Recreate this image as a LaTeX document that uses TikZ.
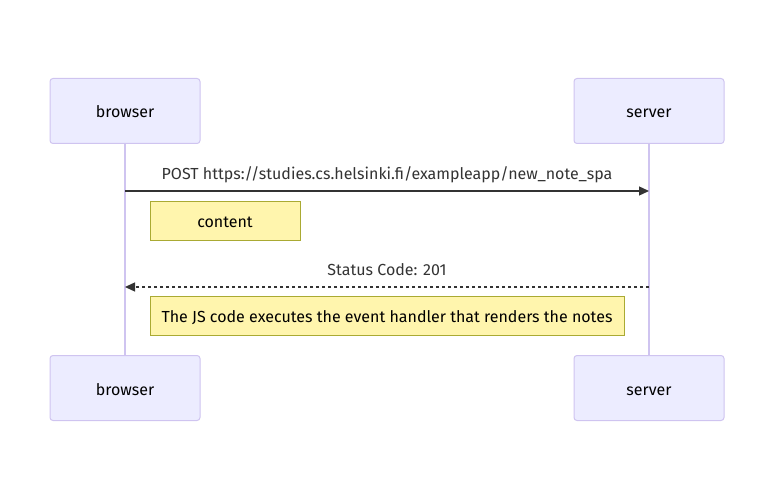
\documentclass[tikz,border=0pt]{standalone}
\usepackage{fontspec}
\setmainfont{Fira Sans}
\usetikzlibrary{arrows.meta}
\definecolor{actfill}{HTML}{ECECFF}
\definecolor{actdraw}{HTML}{CFC4F0}
\definecolor{notefill}{HTML}{FFF5AD}
\definecolor{notedraw}{HTML}{AAAA33}
\definecolor{txt}{HTML}{333333}
\begin{document}
\begin{tikzpicture}[x=1pt,y=-1pt,
  every node/.style={font=\fontsize{16}{19}\selectfont, inner sep=0pt},
  actor/.style={draw=actdraw, fill=actfill, line width=1pt, rounded corners=3pt, minimum width=150pt, minimum height=65pt, text=black, text height=14pt, text depth=0pt},
  note/.style={draw=notedraw, fill=notefill, line width=1pt, minimum height=39pt, text=black, text height=14pt, text depth=0pt},
  lifeline/.style={draw=actdraw, line width=1.6pt},
  msg/.style={draw=txt, line width=1.3pt, -{Triangle[length=10pt,width=9pt]}},
  lbl/.style={text=txt, anchor=base}
]
\useasboundingbox (0,0) rectangle (774,500);
\node[actor] (bt) at (125,111) {browser};
\node[actor] (st) at (649,111) {server};
\node[actor] (bb) at (125,388) {browser};
\node[actor] (sb) at (649,388) {server};
\draw[lifeline] (bt.south) -- (bb.north);
\draw[lifeline] (st.south) -- (sb.north);
\coordinate (m1a) at (125,191);
\coordinate (m1b) at (649,191);
\coordinate (m2a) at (649,287);
\coordinate (m2b) at (125,287);
\draw[msg] (m1a) -- (m1b);
\node[lbl] (l1) at (387,179) {POST https://studies.cs.helsinki.fi/exampleapp/new\_note\_spa};
\node[note, minimum width=150pt] (n1) at (225,220.5) {content};
\draw[msg, dash pattern=on 3pt off 3pt] (m2a) -- (m2b);
\node[lbl] (l2) at (387,275) {Status Code: 201};
\node[note, minimum width=474pt] (n2) at (387,315.5) {The JS code executes the event handler that renders the notes};
\end{tikzpicture}
\end{document}
